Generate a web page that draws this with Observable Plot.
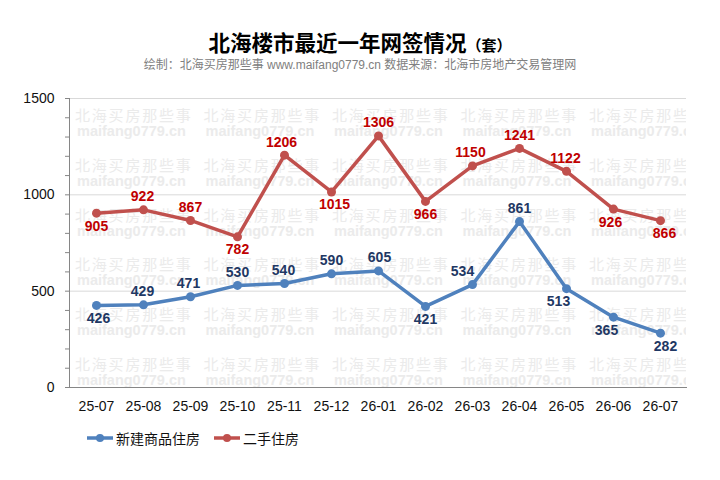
<!DOCTYPE html>
<html><head><meta charset="utf-8">
<script src="https://cdn.jsdelivr.net/npm/d3@7"></script>
<script src="https://cdn.jsdelivr.net/npm/@observablehq/plot@0.6"></script>
<style>
body{margin:0;background:#fff;width:720px;height:480px;overflow:hidden;position:relative;font-family:"Liberation Sans",Arial,"Noto Sans CJK SC",sans-serif}
#title{position:absolute;left:0;width:720px;top:27px;text-align:center;font-family:"Noto Sans CJK SC",sans-serif;font-weight:bold;font-size:21.5px;color:#000;line-height:30px}
#title span{font-size:15px}
#sub{position:absolute;left:0;width:720px;top:57px;text-align:center;font-size:12px;color:#808080;line-height:16px}
#wm{position:absolute;left:69px;top:98px;width:617px;height:289px;overflow:hidden;z-index:0}
#wm div{position:absolute;width:130px;color:#ebebeb;line-height:16px}
#wm .a{font-family:"Noto Sans CJK SC",sans-serif;font-size:15px;letter-spacing:1.8px;white-space:nowrap}
#wm .b{font-family:"Liberation Sans",Arial,sans-serif;font-weight:bold;font-size:14.5px;white-space:nowrap}
#chart{position:absolute;left:0;top:80px;z-index:1}
#legend{position:absolute;top:428px;left:87px;display:flex;align-items:center;font-size:14px;color:#111;z-index:1}
#legend .item{display:flex;align-items:center;margin-right:14px}
#legend svg{margin-right:3px}
</style></head>
<body>
<div id="title">北海楼市最近一年网签情况<span>（套）</span></div>
<div id="sub">绘制：北海买房那些事 www.maifang0779.cn 数据来源：北海市房地产交易管理网</div>
<div id="wm"></div>
<div id="chart"></div>
<div id="legend"></div>
<script>
const months = ["25-07","25-08","25-09","25-10","25-11","25-12","26-01","26-02","26-03","26-04","26-05","26-06","26-07"];
const newHomes = [426,429,471,530,540,590,605,421,534,861,513,365,282];
const resale = [905,922,867,782,1206,1015,1306,966,1150,1241,1122,926,866];
const seriesNames = ["新建商品住房","二手住房"];
const yTicks = d3.range(0, 1501, 100);
const yLabelEvery = 500;

// label placement (style, not data)
const newLabelPos = ["below","above","above","above","above","above","above","below","above","above","below","below","below"];
const newLabelDx  = [2,-1,-2,0,-1,0,1,0,-10,0,-8,-7,5];
const resaleLabelPos = ["below","above","above","below","above","below","above","below","above","above","above","below","below"];
const resaleLabelDx  = [0,-1,0,0,-3,3,0,0,-2,0,-1,-3,4];

const colors = ["#4F81BD","#C0504D"];
const labelColors = ["#1F3864","#C00000"];

const rows = [];
months.forEach((m,i)=>{
  rows.push({month:m,value:newHomes[i],series:seriesNames[0],pos:newLabelPos[i],dx:newLabelDx[i],lc:labelColors[0]});
});
months.forEach((m,i)=>{
  rows.push({month:m,value:resale[i],series:seriesNames[1],pos:resaleLabelPos[i],dx:resaleLabelDx[i],lc:labelColors[1]});
});

// watermark tiles (decoration)
const wm = document.getElementById("wm");
for (let r = 0; r < 6; r++) {
  for (let c = 0; c < 5; c++) {
    const left = 6 + c*128.5, top = 9 + r*49.8;
    const a = document.createElement("div"); a.className="a"; a.textContent="北海买房那些事";
    a.style.left = left+"px"; a.style.top = top+"px";
    const b = document.createElement("div"); b.className="b"; b.textContent="maifang0779.cn";
    b.style.left = (left+2)+"px"; b.style.top = (top+16)+"px";
    wm.appendChild(a); wm.appendChild(b);
  }
}

const labelMarks = rows.map(d => Plot.text([d], {
  x:"month", y:"value", text:d=>String(d.value),
  dx:d.dx, dy:d.pos==="above"?-13:13,
  fill:d.lc, fontWeight:"bold", fontSize:14
}));

const chart = Plot.plot({
  width:720, height:345,
  marginTop:18, marginBottom:38, marginLeft:69, marginRight:34,
  style:{background:"transparent", fontFamily:"Liberation Sans, Arial, sans-serif", fontSize:"14px", color:"#111", overflow:"visible"},
  x:{type:"point", domain:months, padding:0.5, label:null},
  y:{domain:[0,1500], label:null},
  color:{domain:seriesNames, range:colors},
  marks:[
    Plot.gridY([500,1000,1500], {stroke:"#d9d9d9", strokeOpacity:1}),
    Plot.axisY(yTicks, {tickSize:4, tickPadding:11, stroke:"#868686", tickFormat:d=>d%yLabelEvery===0?String(d):"", fontSize:14, label:null}),
    Plot.axisX({tickSize:0, tickPadding:14, fontSize:14, label:null}),
    Plot.frame({anchor:"left", stroke:"#868686"}),
    Plot.frame({anchor:"bottom", stroke:"#868686"}),
    Plot.line(rows, {x:"month", y:"value", z:"series", stroke:"series", strokeWidth:3.5}),
    Plot.dot(rows, {x:"month", y:"value", fill:"series", r:4.5}),
    ...labelMarks
  ]
});
document.getElementById("chart").appendChild(chart);

const legend = document.getElementById("legend");
seriesNames.forEach((s,i)=>{
  const item = document.createElement("div"); item.className="item";
  item.innerHTML = `<svg width="26" height="10"><line x1="0" y1="5" x2="26" y2="5" stroke="${colors[i]}" stroke-width="3.5"/><circle cx="13" cy="5" r="4" fill="${colors[i]}"/></svg><span>${s}</span>`;
  legend.appendChild(item);
});
</script>
</body></html>
